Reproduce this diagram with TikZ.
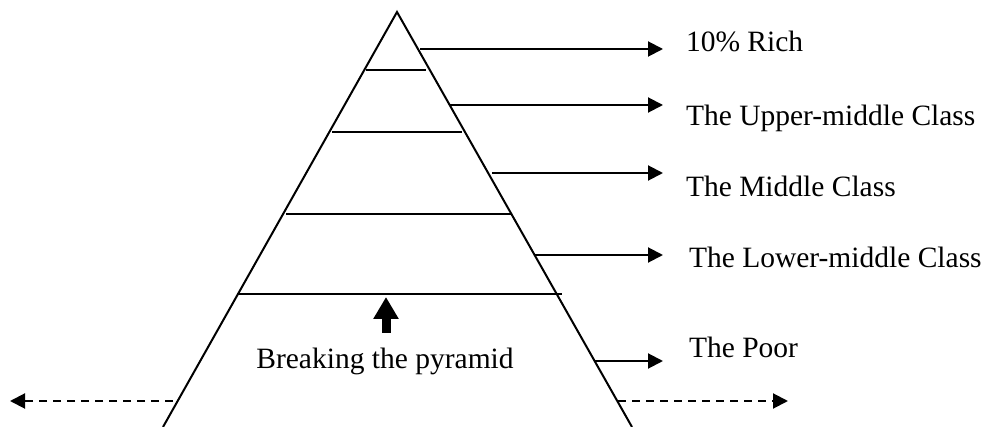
\documentclass[tikz,border=0pt]{standalone}
\usepackage{fontspec}
\setmainfont{Liberation Serif}
\usetikzlibrary{arrows.meta}

\begin{document}
\begin{tikzpicture}[x=0.5pt, y=-0.5pt, line width=1pt,
	every node/.style={inner sep=0pt, font=\fontsize{14.75}{17}\selectfont},
	classarrow/.style={-{Triangle[length=7.5pt,width=7.5pt]}},
	spreadarrow/.style={-{Triangle[length=7.5pt,width=7.5pt]}, dash pattern=on 4pt off 3pt}]
				\useasboundingbox (0,0) rectangle (981,427);
				% pyramid
				\coordinate (apex) at (397,12);
				\coordinate (baseL) at (163,427);
				\coordinate (baseR) at (632,427);
				\draw (baseL) -- (apex) -- (baseR);
				\draw (366,70) -- (426,70);
				\draw (332,132) -- (462,132);
				\draw (286,214) -- (511,214);
				\draw (237,294) -- (562,294);
				% labels
				\node (rich) at (685,52) [anchor=base west] {10\% Rich};
				\node (upper) at (685,126) [anchor=base west] {The Upper-middle Class};
				\node (middle) at (685,197) [anchor=base west] {The Middle Class};
				\node (lower) at (688,268) [anchor=base west] {The Lower-middle Class};
				\node (poor) at (688,358) [anchor=base west] {The Poor};
				\node (breaking) at (385,369) [anchor=base] {Breaking the pyramid};
				% arrows to the classes
				\coordinate (richS) at (420,49);   \coordinate (richE) at (663,49);
				\coordinate (upperS) at (450,105); \coordinate (upperE) at (663,105);
				\coordinate (middleS) at (492,173); \coordinate (middleE) at (663,173);
				\coordinate (lowerS) at (535,255); \coordinate (lowerE) at (663,255);
				\coordinate (poorS) at (594,361);  \coordinate (poorE) at (663,361);
				\draw[classarrow] (richS) -- (richE);
				\draw[classarrow] (upperS) -- (upperE);
				\draw[classarrow] (middleS) -- (middleE);
				\draw[classarrow] (lowerS) -- (lowerE);
				\draw[classarrow] (poorS) -- (poorE);
				% breaking arrow
				\coordinate (breakS) at (386,333);
				\coordinate (breakE) at (386,297);
				\draw[line width=4.5pt, -{Triangle[length=11pt,width=12pt]}] (breakS) -- (breakE);
				% spreading out
				\coordinate (leftS) at (173,401);  \coordinate (leftE) at (10,401);
				\coordinate (rightS) at (618,401); \coordinate (rightE) at (788,401);
				\draw[spreadarrow] (leftS) -- (leftE);
				\draw[spreadarrow] (rightS) -- (rightE);
			\end{tikzpicture}
\end{document}
